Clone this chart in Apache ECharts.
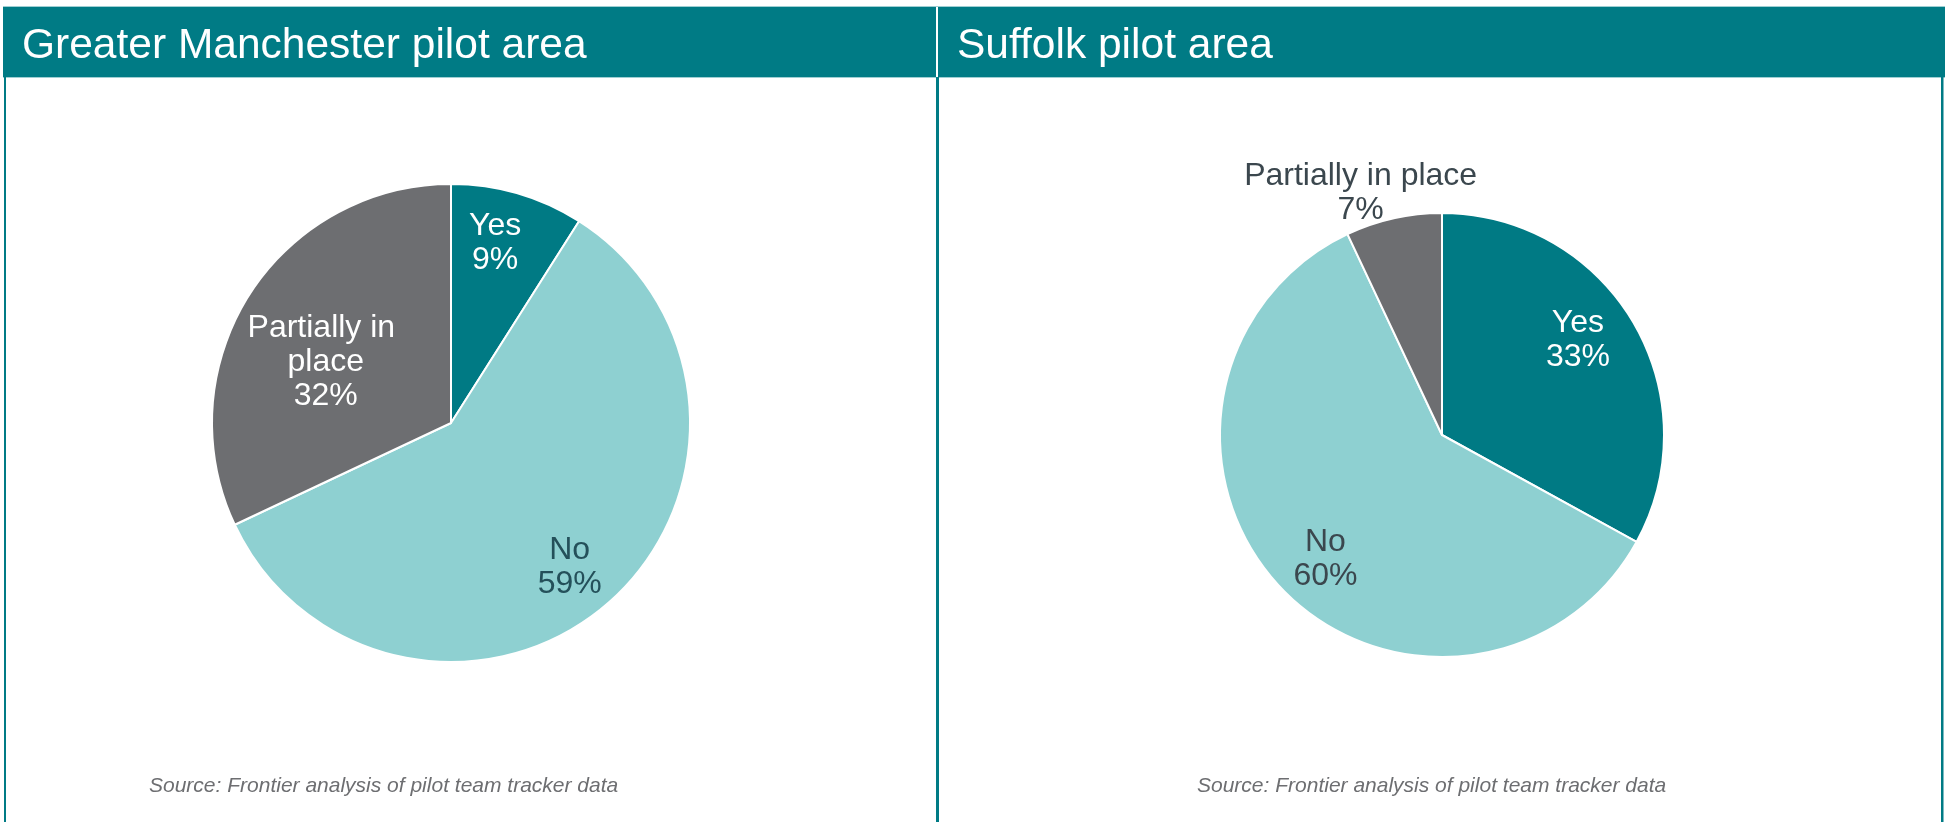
<!DOCTYPE html>
<html><head><meta charset="utf-8">
<script src="https://cdn.jsdelivr.net/npm/echarts@6/dist/echarts.min.js"></script>
<style>html,body{margin:0;padding:0;background:#fff}#c{width:1945px;height:822px}</style>
</head><body><div id="c"></div>
<script>
// ---- data ----
const panelTitles = ['Greater Manchester pilot area', 'Suffolk pilot area'];
const sourceText = 'Source: Frontier analysis of pilot team tracker data';
const gmCategories = ['Yes', 'No', 'Partially in place'];
const gmValues = [9, 59, 32];
const sfCategories = ['Yes', 'No', 'Partially in place'];
const sfValues = [33, 60, 7];

// ---- styles / layout ----
const FONT = '"Liberation Sans", Arial, Helvetica, sans-serif';
const HEADER = '#007B85';
const TEAL = '#007A84', LIGHT = '#8ED0D1', GREY = '#6D6E71';
const sliceColors = { 'Yes': TEAL, 'No': LIGHT, 'Partially in place': GREY };
const pies = [
  { cats: gmCategories, vals: gmValues, center: [451, 423], r: 239,
    labels: {
      'Yes': { f: 0.785, dx: -9, dy: 3, color: '#ffffff' },
      'No': { f: 0.77, dx: -5, dy: 4, color: '#24505A' },
      'Partially in place': { f: 0.598, dx: -2, dy: 17, color: '#ffffff', width: 170 }
    } },
  { cats: sfCategories, vals: sfValues, center: [1442, 435], r: 222,
    labels: {
      'Yes': { f: 0.745, dx: -9, dy: -9, color: '#ffffff' },
      'No': { f: 0.75, dx: 7, dy: 8, color: '#3B474E' },
      'Partially in place': { f: 1.15, dx: -25, dy: 10, color: '#3B474E' }
    } }
];

const series = [];
pies.forEach(p => {
  series.push({
    type: 'pie', center: p.center, radius: [0, p.r], startAngle: 90, clockwise: true,
    silent: true, animation: false, z: 2,
    label: { show: false }, labelLine: { show: false },
    itemStyle: { borderColor: '#ffffff', borderWidth: 2 },
    data: p.cats.map((c, i) => ({ name: c, value: p.vals[i], itemStyle: { color: sliceColors[c] } }))
  });
  p.cats.forEach(cat => {
    const L = p.labels[cat];
    series.push({
      type: 'pie', center: p.center, radius: [0, 2 * L.f * p.r], startAngle: 90, clockwise: true,
      silent: true, animation: false, z: 3,
      itemStyle: { color: 'rgba(0,0,0,0)', borderWidth: 0 },
      labelLine: { show: false },
      label: {
        show: true, position: 'inside', color: L.color, fontSize: 32, lineHeight: 34,
        fontFamily: FONT, align: 'center',
        width: L.width, overflow: L.width ? 'break' : 'none',
        formatter: q => q.name + '\n' + q.value + '%'
      },
      labelLayout: () => ({ dx: L.dx, dy: L.dy }),
      data: p.cats.map((c, i) => ({ name: c, value: p.vals[i], label: { show: c === cat } }))
    });
  });
});

const chart = echarts.init(document.getElementById('c'), null, { renderer: 'canvas' });
chart.setOption({
  backgroundColor: '#ffffff',
  animation: false,
  title: [
    { text: panelTitles[0], left: 22, top: 25, padding: 0,
      textStyle: { color: '#ffffff', fontSize: 42.5, fontWeight: 'normal', fontFamily: FONT } },
    { text: panelTitles[1], left: 957, top: 25, padding: 0,
      textStyle: { color: '#ffffff', fontSize: 42.5, fontWeight: 'normal', fontFamily: FONT } },
    { text: sourceText, left: 149, top: 776, padding: 0,
      textStyle: { color: '#6D6E71', fontSize: 21, fontStyle: 'italic', fontWeight: 'normal', fontFamily: FONT } },
    { text: sourceText, left: 1197, top: 776, padding: 0,
      textStyle: { color: '#6D6E71', fontSize: 21, fontStyle: 'italic', fontWeight: 'normal', fontFamily: FONT } }
  ],
  graphic: [
    { type: 'rect', silent: true, shape: { x: 3, y: 6, width: 1942, height: 1 }, style: { fill: '#9FCFD3' } },
    { type: 'rect', silent: true, shape: { x: 3, y: 7, width: 933, height: 70 }, style: { fill: HEADER } },
    { type: 'rect', silent: true, shape: { x: 938, y: 7, width: 1007, height: 70 }, style: { fill: HEADER } },
    { type: 'rect', silent: true, shape: { x: 3, y: 77, width: 1942, height: 1 }, style: { fill: '#9FCFD3' } },
    { type: 'rect', silent: true, shape: { x: 4, y: 77, width: 2, height: 745 }, style: { fill: HEADER } },
    { type: 'rect', silent: true, shape: { x: 936, y: 77, width: 3, height: 745 }, style: { fill: HEADER } },
    { type: 'rect', silent: true, shape: { x: 1941, y: 77, width: 2.5, height: 745 }, style: { fill: HEADER } }
  ],
  series: series
});
</script>
</body></html>
